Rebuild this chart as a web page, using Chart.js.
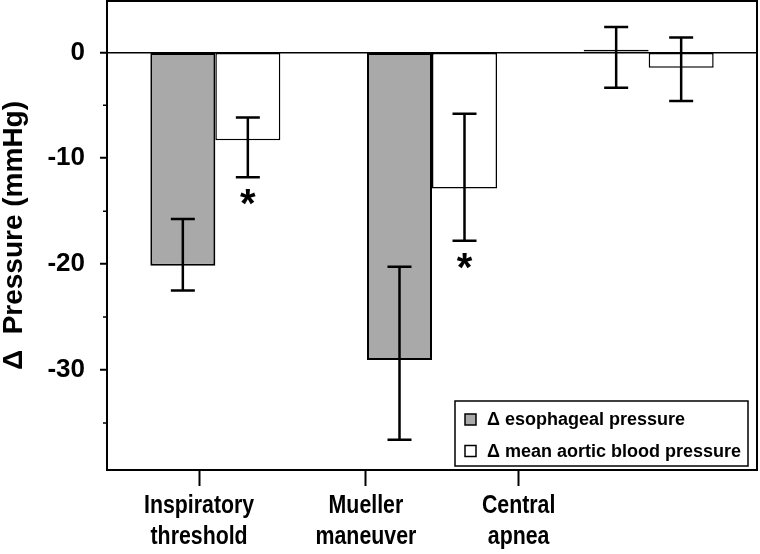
<!DOCTYPE html>
<html>
<head>
<meta charset="utf-8">
<script src="https://cdn.jsdelivr.net/npm/chart.js@4.4.1/dist/chart.umd.min.js"></script>
<style>
  html, body { margin: 0; padding: 0; background: #fff; }
  #wrap { width: 760px; height: 554px; }
</style>
</head>
<body>
<div id="wrap"><canvas id="chart" width="760" height="554"></canvas></div>
<script>
const categories = [['Inspiratory', 'threshold'], ['Mueller', 'maneuver'], ['Central', 'apnea']];
const esophageal = [-20.15, -29.05, 0.25];
const esophagealLow = [-22.5, -36.6, -3.35];
const esophagealHigh = [-15.75, -20.25, 2.4];
const aortic = [-8.3, -12.85, -1.45];
const aorticLow = [-11.8, -17.8, -4.6];
const aorticHigh = [-6.15, -5.8, 1.4];
const aorticSignificant = [true, true, false];
const yTicks = [0, -10, -20, -30];
const yMinorTicks = [-5, -15, -25, -35];
// in the original figure the category labels sit left of the bar groups
const labelPositions = [-0.075, 0.695, 1.40];

const SANS = '"Liberation Sans", Arial, sans-serif';

// error bars + significance stars
const errorBars = {
  id: 'errorBars',
  afterDatasetsDraw(chart) {
    const ctx = chart.ctx, y = chart.scales.y;
    ctx.save();
    ctx.strokeStyle = '#000';
    ctx.fillStyle = '#000';
    ctx.lineWidth = 2.5;
    ctx.font = 'bold 40px ' + SANS;
    ctx.textAlign = 'center';
    ctx.textBaseline = 'alphabetic';
    chart.data.datasets.forEach((ds, di) => {
      chart.getDatasetMeta(di).data.forEach((bar, i) => {
        const top = y.getPixelForValue(ds.errHigh[i]);
        const bot = y.getPixelForValue(ds.errLow[i]);
        ctx.beginPath();
        ctx.moveTo(bar.x, top); ctx.lineTo(bar.x, bot);
        ctx.moveTo(bar.x - 12, top); ctx.lineTo(bar.x + 12, top);
        ctx.moveTo(bar.x - 12, bot); ctx.lineTo(bar.x + 12, bot);
        ctx.stroke();
        if (ds.significant && ds.significant[i]) {
          ctx.fillText('*', bar.x, bot + 40);
        }
      });
    });
    ctx.restore();
  }
};

// frame, minor ticks, narrow category labels and the boxed legend
const frameAndLegend = {
  id: 'frameAndLegend',
  afterDraw(chart) {
    const ctx = chart.ctx, a = chart.chartArea, y = chart.scales.y, x2 = chart.scales.x2;
    ctx.save();
    ctx.strokeStyle = '#000';
    ctx.lineWidth = 2;
    ctx.strokeRect(a.left, a.top, a.right - a.left, a.bottom - a.top);

    ctx.lineWidth = 1.5;
    ctx.beginPath();
    yMinorTicks.forEach(v => {
      const py = y.getPixelForValue(v);
      ctx.moveTo(a.left - 4, py); ctx.lineTo(a.left, py);
    });
    ctx.stroke();

    // category labels: the source uses a condensed bold face
    ctx.fillStyle = '#000';
    ctx.font = 'bold 26px ' + SANS;
    ctx.textAlign = 'center';
    ctx.textBaseline = 'alphabetic';
    categories.forEach((lines, i) => {
      const px = x2.getPixelForValue(labelPositions[i]);
      lines.forEach((t, j) => {
        ctx.save();
        ctx.translate(px, a.bottom + 43 + j * 31);
        ctx.scale(0.82, 1);
        ctx.fillText(t, 0, 0);
        ctx.restore();
      });
    });

    const w = 293, h = 65;
    const bx = a.right - 9 - w, by = a.bottom - 4 - h;
    ctx.fillStyle = '#fff';
    ctx.fillRect(bx, by, w, h);
    ctx.lineWidth = 1.5;
    ctx.strokeRect(bx, by, w, h);
    ctx.font = 'bold 18px ' + SANS;
    ctx.textBaseline = 'middle';
    ctx.textAlign = 'left';
    chart.data.datasets.forEach((ds, i) => {
      const cy = by + 18.5 + i * 31.5;
      ctx.fillStyle = ds.backgroundColor;
      ctx.fillRect(bx + 10, cy - 5.5, 11, 11);
      ctx.lineWidth = 1.5;
      ctx.strokeStyle = '#000';
      ctx.strokeRect(bx + 10, cy - 5.5, 11, 11);
      ctx.fillStyle = '#000';
      ctx.fillText(ds.label, bx + 32, cy + 1);
    });
    ctx.restore();
  }
};

new Chart(document.getElementById('chart'), {
  type: 'bar',
  plugins: [errorBars, frameAndLegend],
  data: {
    labels: categories.map(c => c.join(' ')),
    datasets: [
      {
        label: 'Δ esophageal pressure',
        data: esophageal,
        errLow: esophagealLow,
        errHigh: esophagealHigh,
        backgroundColor: '#a9a9a9',
        borderColor: '#000',
        borderWidth: 2,
        borderSkipped: false
      },
      {
        label: 'Δ mean aortic blood pressure',
        data: aortic,
        errLow: aorticLow,
        errHigh: aorticHigh,
        significant: aorticSignificant,
        backgroundColor: '#ffffff',
        borderColor: '#000',
        borderWidth: 1.5,
        borderSkipped: false
      }
    ]
  },
  options: {
    responsive: false,
    animation: false,
    categoryPercentage: 0.6,
    barPercentage: 1.0,
    layout: { padding: { top: 1, right: 3, left: 0, bottom: 0 } },
    plugins: {
      legend: { display: false },
      tooltip: { enabled: false }
    },
    scales: {
      x: { type: 'category', display: false },
      x2: {
        type: 'linear',
        axis: 'x',
        position: 'bottom',
        min: -0.5,
        max: 2.5,
        offset: false,
        border: { display: false },
        grid: { offset: false, drawOnChartArea: false, tickLength: 16, tickWidth: 2, tickColor: '#000' },
        ticks: { display: false },
        afterBuildTicks: s => { s.ticks = labelPositions.map(v => ({ value: v })); },
        afterFit: s => { s.height = 84; s.paddingLeft = 0; s.paddingRight = 0; }
      },
      y: {
        min: -39.45,
        max: 4.85,
        border: { display: false },
        grid: {
          color: c => (c.tick && c.tick.value === 0 ? '#000' : 'rgba(0,0,0,0)'),
          lineWidth: 1.5,
          tickLength: 7,
          tickWidth: 2,
          tickColor: '#000'
        },
        ticks: {
          color: '#000',
          padding: 15,
          font: { family: SANS, size: 26, weight: 'bold' }
        },
        afterBuildTicks: s => { s.ticks = yTicks.map(v => ({ value: v })); },
        afterFit: s => { s.width = 107; s.paddingTop = 0; s.paddingBottom = 0; },
        title: {
          display: true,
          text: 'Δ  Pressure (mmHg)',
          color: '#000',
          padding: 0,
          font: { family: SANS, size: 28, weight: 'bold', lineHeight: 1 }
        }
      }
    }
  }
});
</script>
</body>
</html>
